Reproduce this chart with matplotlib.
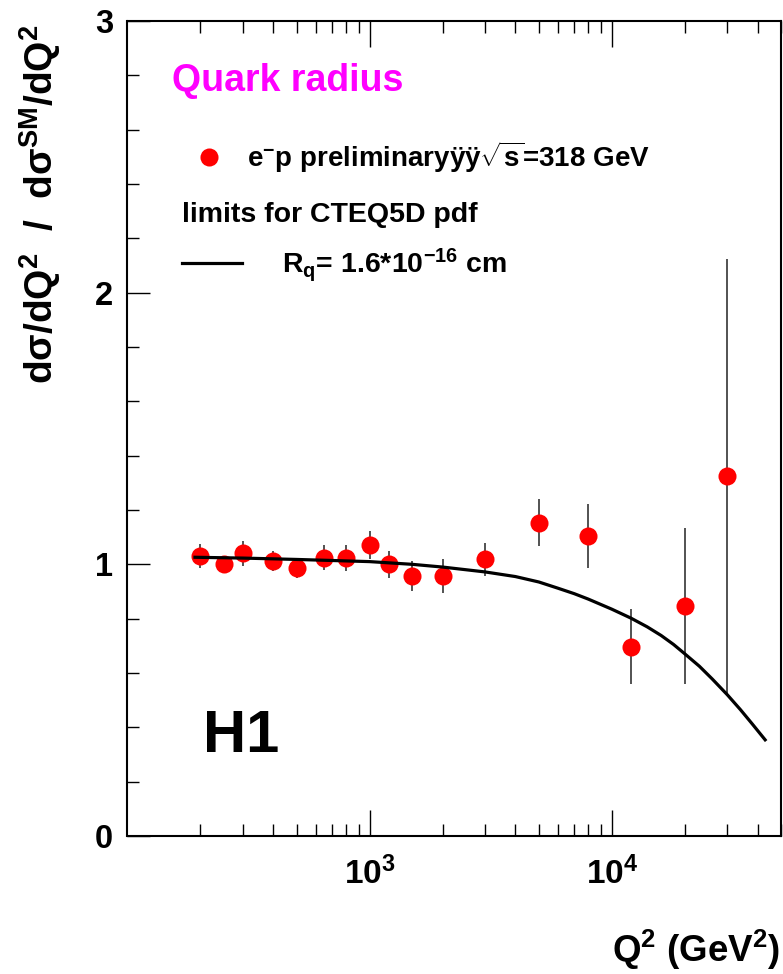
import numpy as np
import matplotlib
matplotlib.use('Agg')
import matplotlib.pyplot as plt
from matplotlib.ticker import MultipleLocator, LogLocator, NullFormatter

# H1 e-p preliminary, sqrt(s)=318 GeV : ratio to SM
q2 = [200, 250, 300, 400, 500, 650, 800, 1000, 1200, 1500, 2000,
      3000, 5000, 8000, 12000, 20000, 30000]
ratio = [1.031, 1.000, 1.040, 1.012, 0.985, 1.025, 1.022, 1.071, 1.000,
         0.957, 0.957, 1.018, 1.153, 1.104, 0.697, 0.847, 1.324]
ratio_err = [0.045, 0.030, 0.045, 0.037, 0.037, 0.045, 0.048, 0.053, 0.050,
             0.055, 0.061, 0.062, 0.086, 0.118, 0.139, 0.286, 0.800]

# quark radius limit curve (R_q = 1.6e-16 cm)
q2_curve = [190, 300, 500, 1000, 1500, 2000, 3000, 4000, 5000, 6000, 7000,
            8000, 10000, 12000, 14000, 16000, 18000, 20000, 23000, 26000,
            30000, 34000, 38000, 43000]
ratio_curve = [1.026, 1.023, 1.018, 1.010, 1.000, 0.990, 0.972, 0.955, 0.935,
               0.912, 0.892, 0.872, 0.835, 0.802, 0.770, 0.738, 0.705, 0.671,
               0.625, 0.578, 0.520, 0.465, 0.413, 0.354]

x_ticks = [1e3, 1e4]
x_tick_labels = [r'$10^{3}$', r'$10^{4}$']
y_ticks = [0, 1, 2, 3]
y_tick_labels = ['0', '1', '2', '3']

plt.rcParams['font.family'] = ['Liberation Sans', 'DejaVu Sans']
plt.rcParams['font.weight'] = 'bold'
plt.rcParams['mathtext.fontset'] = 'custom'
plt.rcParams['mathtext.rm'] = 'Liberation Sans:bold'
plt.rcParams['mathtext.it'] = 'Liberation Sans:bold'
plt.rcParams['mathtext.bf'] = 'Liberation Sans:bold'
plt.rcParams['mathtext.sf'] = 'Liberation Sans:bold'

W, H = 783, 974
fig = plt.figure(figsize=(W / 100, H / 100), dpi=100)
ax = fig.add_axes([127.5 / W, 1 - 836 / H, (781 - 127.5) / W, (836 - 21) / H])

eb = ax.errorbar(q2, ratio, yerr=ratio_err, fmt='o', color='red', ms=13,
                 mec='none', ecolor='#444444', elinewidth=1.3, capsize=0, zorder=3)
curve, = ax.plot(q2_curve, ratio_curve, color='black', lw=2.3, zorder=4)

ax.set_xscale('log')
ax.set_xlim(100, 50000)
ax.set_ylim(0, 3)

ax.set_xticks(x_ticks, x_tick_labels)
ax.xaxis.set_minor_locator(LogLocator(base=10, subs=np.arange(2, 10)))
ax.xaxis.set_minor_formatter(NullFormatter())
ax.set_yticks(y_ticks, y_tick_labels)
ax.yaxis.set_minor_locator(MultipleLocator(0.2))

ax.tick_params(axis='x', which='both', direction='in', top=True, bottom=True,
               width=1.0, labelsize=24, pad=15)
ax.tick_params(axis='x', which='major', length=18.7)
ax.tick_params(axis='x', which='minor', length=8.6)
ax.tick_params(axis='y', which='both', direction='in', left=True, right=False,
               width=1.0, labelsize=23.5, pad=10.5)
ax.tick_params(axis='y', which='major', length=16.5)
ax.tick_params(axis='y', which='minor', length=8.6)
for s in ax.spines.values():
    s.set_linewidth(1.5)

# texts
fig.text(171.7 / W, 1 - 90.7 / H, 'Quark radius', color='#ff00ff', fontsize=27,
         ha='left', va='baseline')
fig.text(203 / W, 1 - 751.7 / H, 'H1', fontsize=43, ha='left', va='baseline')
fig.text(182 / W, 1 - 222 / H, 'limits for CTEQ5D pdf', fontsize=20.5,
         ha='left', va='baseline')

leg1 = ax.legend(handles=[eb[0]], labels=[r'e$^{-}$p preliminaryÿÿ$\sqrt{s}$=318 GeV'],
                 loc='center left', bbox_to_anchor=(190 / W, 1 - 157 / H),
                 bbox_transform=fig.transFigure, frameon=False, fontsize=20,
                 handlelength=1.4, handletextpad=0.65, borderpad=0,
                 borderaxespad=0, numpoints=1)
ax.add_artist(leg1)
ax.legend(handles=[curve], labels=[r'R$_{q}$= 1.6*10$^{-16}$ cm'],
          loc='center left', bbox_to_anchor=(182 / W, 1 - 265 / H),
          bbox_transform=fig.transFigure, frameon=False, fontsize=20.5,
          handlelength=2.1, handletextpad=1.4, borderpad=0, borderaxespad=0)

fig.text(780 / W, 1 - 962 / H, r'Q$^{2}$ (GeV$^{2}$)', ha='right', va='baseline',
         fontsize=26.5)
fig.text(40 / W, 1 - 24 / H, r'dσ/dQ$^{2}$  /  dσ$^{SM}$/dQ$^{2}$', rotation=90,
         ha='center', va='top', fontsize=28)

fig.savefig('out.png', dpi=100)
